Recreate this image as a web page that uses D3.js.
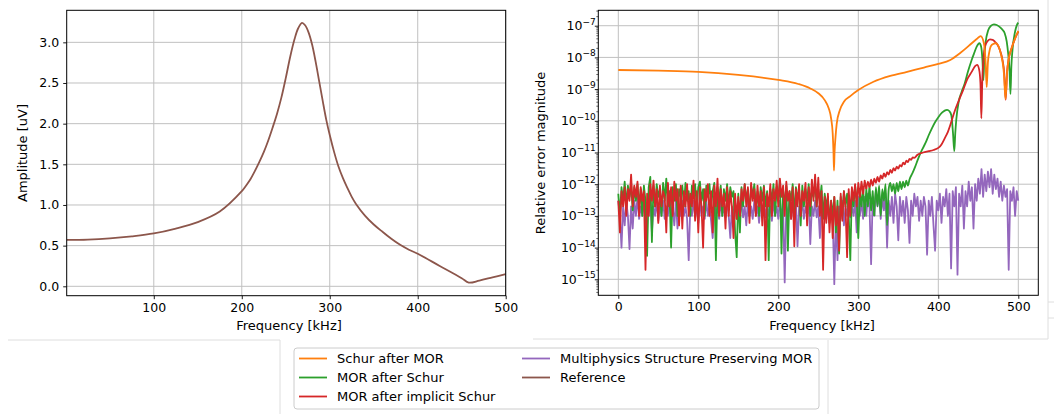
<!DOCTYPE html>
<html>
<head>
<meta charset="utf-8">
<script src="https://cdn.jsdelivr.net/npm/d3@7"></script>
<style>
  body { margin: 0; background: #fff; }
  svg { display: block; font-family: "DejaVu Sans", sans-serif; }
</style>
</head>
<body>
<svg id="canvas" width="1054" height="414"></svg>
<script>
// ---------- data ----------

// left panel: reference amplitude [uV] vs frequency [kHz]
const refFreq = [1, 25, 50, 75, 100, 125, 150, 175, 200, 205,
  210, 215, 220, 225, 230, 235, 240, 245, 250, 255,
  260, 264, 268.5, 272, 276, 280, 284, 288, 292, 296,
  300, 305, 310, 315, 320, 325, 330, 340, 350, 360,
  370, 380, 390, 400, 425, 450, 458, 470, 485, 500]
const refAmp = [0.57, 0.575, 0.59, 0.615, 0.65, 0.71, 0.79, 0.92, 1.17, 1.24,
  1.32, 1.42, 1.53, 1.65, 1.79, 1.95, 2.12, 2.32, 2.56, 2.82,
  3.04, 3.17, 3.24, 3.21, 3.12, 2.97, 2.76, 2.52, 2.28, 2.05,
  1.86, 1.65, 1.47, 1.33, 1.21, 1.10, 1.01, 0.87, 0.76, 0.67,
  0.585, 0.51, 0.45, 0.40, 0.25, 0.10, 0.045, 0.07, 0.11, 0.15]

// right panel: relative error magnitude
// noisy stretches are sampled every noiseStep kHz starting at 0
const noiseStep = 2

// Schur after MOR [kHz, error]
const schurAfterMor = [[0, 4.0e-9], [50, 3.8e-9], [100, 3.5e-9], [150, 2.8e-9], [200, 1.95e-9],
  [225, 1.45e-9], [240, 1.05e-9], [250, 7.4e-10], [258, 4.5e-10], [263, 2.5e-10],
  [266, 1.2e-10], [268, 4e-11], [269, 1e-11], [269.6, 2.7e-12], [270.3, 1e-11],
  [271.5, 3e-11], [273, 8e-11], [277, 2.2e-10], [282, 4e-10], [290, 6e-10],
  [300, 9.3e-10], [319, 1.7e-9], [340, 2.6e-9], [361, 3.5e-9], [382, 4.8e-9],
  [400, 6.2e-9], [415, 8.3e-9], [427, 1.35e-8], [438, 2.3e-8], [448, 3.8e-8],
  [453, 4.7e-8], [457, 2.8e-8], [459, 8e-9], [460.5, 1.15e-9], [462, 7e-9],
  [464, 1.6e-8], [467, 2.5e-8], [472, 2.8e-8], [478, 1.35e-8], [482, 3.2e-9],
  [484, 4.8e-10], [486, 3.5e-9], [488, 9e-9], [491.5, 1.9e-8], [496, 4e-8], [500, 6.9e-8]]

// MOR after Schur: noise 0..320 kHz, then the smooth part
const morAfterSchurNoise = [
  5e-13, 1e-13, 8e-13, 3e-13, 1.2e-12, 2e-13, 9e-13, 4e-13, 1e-12, 1.5e-13,
  8e-13, 3e-13, 1e-12, 2e-13, 7e-13, 1e-13, 9e-13, 3e-13, 5.5e-15, 8e-13,
  1.7e-12, 1.5e-14, 9e-13, 2e-13, 1e-12, 4e-13, 7e-13, 1e-13, 1.1e-12, 3e-13,
  1.5e-12, 2e-13, 6e-13, 1e-14, 8e-13, 3e-13, 1e-12, 1e-13, 7e-13, 4e-13,
  9e-13, 2e-13, 1.1e-12, 3e-13, 6e-13, 1e-13, 9e-13, 4e-13, 1e-12, 2e-13,
  8e-13, 1.2e-12, 3e-13, 7e-13, 1e-13, 9e-13, 4e-13, 1e-12, 2e-13, 6e-13,
  1.1e-12, 4e-15, 8e-13, 3e-13, 9e-13, 1e-13, 7e-13, 3e-13, 1e-12, 2e-13,
  8e-13, 4e-13, 6e-13, 3e-14, 5e-15, 5e-13, 3e-14, 8e-13, 2e-13, 1e-12,
  3e-13, 7e-13, 1e-13, 9e-13, 4e-13, 1e-12, 2e-13, 6e-13, 1e-13, 8e-13,
  3e-13, 9e-13, 2e-13, 6e-13, 4e-15, 7e-13, 3e-13, 1e-12, 1e-13, 8e-13,
  4e-13, 1.1e-12, 6.5e-15, 7e-13, 2e-13, 9e-13, 8e-15, 6e-13, 3e-13, 1e-12,
  1e-13, 8e-13, 4e-13, 6e-13, 5e-14, 9e-13, 2e-13, 7e-13, 3e-13, 1e-12,
  1e-13, 8e-13, 4e-13, 1.1e-12, 2e-13, 7e-13, 3e-13, 9e-13, 8e-14, 5e-13,
  2e-13, 4e-13, 6e-14, 3e-13, 1e-13, 4e-13, 3e-14, 3e-13, 6.5e-15, 4e-13,
  1e-13, 6e-13, 2e-13, 5e-13, 1e-13, 4e-15, 7e-13, 2e-13, 9e-13, 3e-13,
  2e-14, 6e-13, 2e-13, 8e-13, 1e-13, 7e-13, 2e-13, 9e-13, 1.5e-13, 6e-13,
  1e-13]
const morAfterSchurTail = [[322, 8e-13], [324, 2e-13], [326, 9e-13], [328, 1e-13], [330, 7e-13],
  [332, 3e-13], [334, 1e-12], [336, 5e-14], [338, 7e-13], [340, 1.1e-12],
  [342, 6e-13], [344, 1e-12], [346, 5e-13], [348, 1.1e-12], [350, 6e-13],
  [352, 1.2e-12], [354, 7e-13], [356, 1.2e-12], [358, 8e-13], [360, 1.3e-12],
  [362, 9e-13], [364, 1.4e-12], [368, 2.3e-12], [371, 3.5e-12], [375, 6.5e-12],
  [379.6, 1.2e-11], [384, 2e-11], [388, 3.5e-11], [392, 5.8e-11], [396.3, 9.3e-11],
  [400.5, 1.35e-10], [404.6, 1.8e-10], [408, 2.1e-10], [411, 2.2e-10], [414, 2e-10],
  [416.3, 1.5e-10], [418.4, 4e-11], [420, 1.1e-11], [421.2, 4e-11], [422.5, 1.1e-10],
  [425.5, 4e-10], [429, 8e-10], [433, 1.5e-9], [437, 3.5e-9], [441.7, 8.3e-9],
  [445, 1.4e-8], [448, 2.2e-8], [451.4, 2.8e-8], [453.5, 2.2e-8], [455.2, 8e-9],
  [456.4, 1.9e-9], [457.5, 1e-8], [459, 2.8e-8], [462.5, 7.3e-8], [466, 1e-7],
  [469.6, 1.1e-7], [473, 1.05e-7], [477, 9e-8], [480.5, 7.3e-8], [483, 5.8e-8],
  [485.5, 3.2e-8], [487.3, 1.35e-8], [489, 4e-9], [490.2, 7e-10], [491.3, 5e-9],
  [492.7, 1.7e-8], [495.6, 5.8e-8], [499, 1.15e-7], [500, 1.25e-7]]

// MOR after implicit Schur: noise 0..310 kHz, then the rising part
const morImplicitNoise = [
  3e-13, 3e-14, 6e-13, 2e-13, 8e-13, 1e-13, 7e-13, 3e-13, 2e-12, 2e-13,
  9e-13, 4e-13, 1.2e-12, 1e-13, 8e-13, 3e-13, 6e-13, 2e-15, 5e-13, 1e-13,
  1e-12, 3e-13, 1.3e-12, 2e-13, 7e-13, 6e-14, 9e-13, 2e-13, 6e-13, 4e-13,
  3e-14, 1.1e-12, 2e-13, 8e-13, 1e-13, 1.2e-12, 3e-13, 7e-13, 5e-14, 9e-13,
  4e-14, 6e-13, 2e-13, 1e-12, 1e-13, 5e-13, 2e-13, 1.3e-12, 7e-14, 6e-13,
  3e-14, 8e-13, 2e-13, 1e-14, 7e-13, 3e-13, 1e-12, 1e-13, 6e-13, 3e-14,
  9e-13, 2e-13, 1.5e-12, 1e-13, 7e-13, 2e-13, 5e-13, 4e-14, 8e-13, 1e-13,
  6e-13, 2e-13, 2e-14, 5e-13, 8e-14, 4e-13, 1e-13, 7e-13, 3e-13, 1e-12,
  2e-13, 8e-13, 6e-14, 1.1e-12, 3e-13, 7e-13, 1e-13, 9e-13, 2e-13, 6e-13,
  5e-14, 8e-13, 4e-15, 5e-13, 2e-13, 1e-12, 1e-13, 7e-13, 3e-13, 1.3e-12,
  2e-13, 1.5e-12, 4e-13, 9e-13, 1e-13, 1.2e-12, 3e-13, 6e-13, 8e-14, 8e-13,
  1.1e-14, 7e-13, 2e-13, 1e-12, 1e-13, 6e-13, 3e-13, 1.1e-12, 5e-14, 8e-13,
  2e-13, 1.4e-12, 3e-13, 2e-12, 2e-13, 1.6e-12, 1e-13, 6e-13, 2e-15, 4e-13,
  6e-14, 5e-13, 3e-14, 3e-13, 2e-14, 4e-13, 5e-14, 2e-13, 8e-15, 5e-13,
  7e-14, 6e-13, 2e-13, 5e-15, 7e-13, 1e-13, 8e-13, 3e-13, 1e-12, 2e-13,
  1.1e-12, 4e-13, 1.2e-12, 5e-13, 1.3e-12, 7e-13]
const morImplicitTail = [[312, 1.2e-12], [314, 8e-13], [316, 1.4e-12], [318, 9e-13], [320, 1.5e-12],
  [322, 1.1e-12], [324, 1.7e-12], [326, 1.2e-12], [328, 1.9e-12], [330, 1.5e-12],
  [332, 2.2e-12], [334, 1.7e-12], [336, 2.4e-12], [338, 2e-12], [340, 2.8e-12],
  [342, 2.3e-12], [344, 3.2e-12], [346, 2.7e-12], [348, 3.6e-12], [350, 3.1e-12],
  [352, 4e-12], [354, 3.6e-12], [356, 4.8e-12], [358, 4.2e-12], [360, 5.5e-12],
  [362, 5e-12], [364, 6.3e-12], [366, 5.9e-12], [368, 7e-12], [370, 6.8e-12],
  [374, 8.5e-12], [381, 1e-11], [388, 1.1e-11], [394, 1.2e-11], [400, 1.4e-11],
  [404, 1.8e-11], [408, 2.8e-11], [412, 4.5e-11], [415, 7.4e-11], [418, 1.3e-10],
  [421, 2.2e-10], [426, 4.6e-10], [431, 9.3e-10], [436, 2e-9], [441.7, 3.5e-9],
  [446, 5.3e-9], [448.5, 5.8e-9], [451, 4.2e-9], [452.7, 1.5e-9], [453.8, 1.2e-10],
  [455, 2e-9], [456.5, 9e-9], [458.3, 2.2e-8], [461, 3.1e-8], [464.6, 3.7e-8],
  [468, 3.6e-8], [470.8, 3.1e-8], [474, 2.5e-8], [477, 1.7e-8], [480, 9e-9],
  [482.5, 3e-9], [484.2, 4.6e-10], [486, 3.5e-9], [488, 9e-9], [491.5, 1.9e-8],
  [496, 4e-8], [500, 6.5e-8]]

// Multiphysics Structure Preserving MOR: noise over the whole range 0..500 kHz
const multiphysicsNoise = [
  3e-13, 1e-13, 1e-14, 2e-13, 5e-14, 3e-13, 1e-13, 9e-15, 2e-13, 4e-14,
  3e-13, 1e-13, 4e-13, 8e-14, 2e-13, 1e-13, 3e-13, 6e-14, 2e-13, 1e-13,
  4e-13, 3e-14, 2e-13, 1e-13, 3e-13, 7e-14, 2e-13, 1e-13, 3e-13, 8e-14,
  2e-13, 1e-13, 4e-13, 9e-14, 2e-13, 5e-14, 3e-13, 4e-14, 2e-13, 1e-13,
  3e-13, 1e-13, 2e-13, 8e-14, 4e-15, 2e-13, 1e-13, 3e-13, 9e-14, 2e-13,
  6e-14, 3e-13, 1e-13, 2e-13, 8e-14, 3e-13, 1e-13, 2e-13, 7e-14, 2e-14,
  3e-13, 1e-13, 2e-13, 8e-14, 3e-13, 1e-13, 2e-13, 9e-14, 3e-13, 1e-13,
  2e-14, 2e-13, 1e-13, 3e-13, 8e-14, 2e-13, 1e-13, 3e-13, 9e-14, 2e-13,
  5e-14, 3e-13, 1e-13, 2e-13, 8e-14, 3e-13, 1e-13, 2e-13, 6e-14, 3e-13,
  1e-13, 2e-13, 9e-14, 3e-13, 1e-13, 2e-13, 7e-14, 3e-13, 1e-13, 2e-13,
  8e-14, 3e-13, 1e-13, 2e-13, 8e-16, 2e-13, 1e-13, 3e-13, 8e-14, 2e-13,
  1e-13, 3e-13, 1.1e-14, 2e-13, 1e-13, 3e-13, 8e-14, 2e-13, 1e-13, 3e-13,
  1.3e-14, 2e-13, 1e-13, 3e-13, 9e-14, 2e-13, 2e-14, 2e-13, 1e-13, 3e-13,
  8e-14, 2e-13, 6e-14, 2e-13, 1e-13, 7e-16, 1e-13, 4e-15, 2e-13, 8e-14,
  3e-13, 5e-14, 2e-13, 1e-13, 3e-13, 9e-14, 2e-13, 1e-13, 3e-13, 3e-14,
  4e-13, 1e-13, 3e-13, 8e-14, 4e-13, 1e-13, 5e-13, 2e-13, 3e-15, 4e-13,
  1e-13, 6e-13, 2e-13, 5e-13, 8e-14, 4e-13, 1.5e-13, 5e-13, 1e-14, 3e-13,
  1e-13, 4e-13, 6e-14, 5e-13, 2e-13, 1.7e-14, 4e-13, 1e-13, 3e-13, 6e-14,
  4e-13, 1.5e-13, 1.4e-14, 3e-13, 1e-13, 5e-13, 2e-13, 4e-13, 7e-14, 3e-13,
  1e-13, 4e-13, 2e-13, 6e-15, 3e-13, 1e-13, 4e-13, 5e-14, 8e-15, 3e-13,
  1.5e-13, 5e-13, 6e-14, 4e-13, 2e-13, 7e-13, 1e-13, 5e-13, 2.2e-15, 6e-13,
  2e-13, 8e-13, 1.4e-15, 5e-13, 2e-13, 9e-13, 4e-14, 6e-13, 2e-13, 1.2e-12,
  3e-13, 8e-13, 4e-14, 1e-12, 3e-13, 1.5e-12, 5e-13, 3e-12, 4e-13, 2e-12,
  6e-13, 2.5e-12, 8e-13, 3e-12, 5e-13, 2e-12, 7e-13, 1.5e-12, 4e-13, 1.2e-12,
  3e-13, 9e-13, 4e-13, 7e-13, 2e-15, 6e-13, 3e-13, 8e-13, 1e-13, 6e-13,
  3e-13]

// ticks and legend
const ampTicks = [0, 0.5, 1, 1.5, 2, 2.5, 3]
const freqTicksLeft = [100, 200, 300, 400, 500]
const freqTicksRight = [0, 100, 200, 300, 400, 500]
const errExponents = [-15, -14, -13, -12, -11, -10, -9, -8, -7]
const legendLabels = ['Schur after MOR', 'MOR after Schur', 'MOR after implicit Schur',
  'Multiphysics Structure Preserving MOR', 'Reference']
const legendColors = ['#ff7f0e', '#2ca02c', '#d62728', '#9467bd', '#8c564b']

// ---------- drawing ----------

let svg = d3.select('#canvas')

const leftBox = {x0: 66.7, x1: 505.7, y0: 10.3, y1: 295.7}
const rightBox = {x0: 598.3, x1: 1038.3, y0: 10.3, y1: 295.3}

let xL = d3.scaleLinear().domain([1, 500]).range([leftBox.x0, leftBox.x1])
let yL = d3.scaleLinear().domain([-0.1156, 3.394]).range([leftBox.y1, leftBox.y0])
let xR = d3.scaleLinear().domain([-25, 525]).range([rightBox.x0, rightBox.x1])
let yR = d3.scaleLog().domain([Math.pow(10, -15.505), Math.pow(10, -6.514)]).range([rightBox.y1, rightBox.y0])

// faint panel borders of the screenshot
const seps = [[8, 340, 280, 340], [280, 340, 280, 414], [533, 339, 1048, 339], [828, 340, 828, 414],
  [1048, 0, 1048, 339], [1048, 302, 1054, 302], [1048, 318, 1054, 318]]
svg.selectAll('.sep').data(seps).enter().append('line')
  .attr('x1', d => d[0]).attr('y1', d => d[1]).attr('x2', d => d[2]).attr('y2', d => d[3])
  .attr('stroke', '#dedede').attr('stroke-width', 1)

drawGrid = (box, x, y, xt, yt) => {
  let g = svg.append('g')
  g.selectAll('.gx').data(xt).enter().append('line')
    .attr('x1', d => x(d)).attr('x2', d => x(d))
    .attr('y1', box.y0).attr('y2', box.y1)
  g.selectAll('.gy').data(yt).enter().append('line')
    .attr('y1', d => y(d)).attr('y2', d => y(d))
    .attr('x1', box.x0).attr('x2', box.x1)
  g.selectAll('line').attr('stroke', '#c0c0c0').attr('stroke-width', 1)
}

styleAxis = (g) => {
  g.select('.domain').remove()
  g.selectAll('.tick line').attr('stroke', '#000').attr('stroke-width', 0.9)
  g.selectAll('.tick text').attr('fill', '#000').attr('font-size', '12.5px')
    .attr('font-family', '"DejaVu Sans", sans-serif')
}

clip = (id, box) => {
  svg.append('clipPath').attr('id', id).append('rect')
    .attr('x', box.x0).attr('y', box.y0)
    .attr('width', box.x1 - box.x0).attr('height', box.y1 - box.y0)
}

frame = (box) => {
  svg.append('rect')
    .attr('x', box.x0).attr('y', box.y0)
    .attr('width', box.x1 - box.x0).attr('height', box.y1 - box.y0)
    .attr('fill', 'none').attr('stroke', '#000').attr('stroke-width', 1)
}

// ----- left panel -----
drawGrid(leftBox, xL, yL, freqTicksLeft, ampTicks)
clip('clipL', leftBox)

let refPoints = refFreq.map((f, i) => [f, refAmp[i]])
svg.append('path')
  .datum(refPoints)
  .attr('clip-path', 'url(#clipL)')
  .attr('fill', 'none')
  .attr('stroke', legendColors[4])
  .attr('stroke-width', 1.8)
  .attr('d', d3.line().x(d => xL(d[0])).y(d => yL(d[1])).curve(d3.curveCatmullRom.alpha(0.5)))

svg.append('g').attr('transform', `translate(0,${leftBox.y1})`)
  .call(d3.axisBottom(xL).tickValues(freqTicksLeft).tickSize(3.5).tickPadding(3.5))
  .call(styleAxis)
svg.append('g').attr('transform', `translate(${leftBox.x0},0)`)
  .call(d3.axisLeft(yL).tickValues(ampTicks).tickFormat(d3.format('.1f')).tickSize(3.5).tickPadding(4))
  .call(styleAxis)
frame(leftBox)

svg.append('text').attr('x', 289).attr('y', 330)
  .attr('text-anchor', 'middle').attr('font-size', '13px').text('Frequency [kHz]')
svg.append('text').attr('transform', 'translate(27,153) rotate(-90)')
  .attr('text-anchor', 'middle').attr('font-size', '13px').text('Amplitude [uV]')

// ----- right panel -----
drawGrid(rightBox, xR, yR, freqTicksRight, errExponents.map(e => Math.pow(10, e)))
clip('clipR', rightBox)

let lineR = d3.line().x(d => xR(d[0])).y(d => yR(d[1]))
let noisePts = (arr) => arr.map((v, i) => [i * noiseStep, v])

let drawErr = (pts, color, curve) => {
  svg.append('path')
    .datum(pts)
    .attr('clip-path', 'url(#clipR)')
    .attr('fill', 'none')
    .attr('stroke', color)
    .attr('stroke-width', 1.8)
    .attr('stroke-linejoin', 'round')
    .attr('d', lineR.curve(curve))
}

let mpNoise = noisePts(multiphysicsNoise)
let msNoise = noisePts(morAfterSchurNoise)
let miNoise = noisePts(morImplicitNoise)

drawErr(mpNoise, legendColors[3], d3.curveLinear)
drawErr(msNoise, legendColors[1], d3.curveLinear)
drawErr([msNoise[msNoise.length - 1]].concat(morAfterSchurTail), legendColors[1], d3.curveMonotoneX)
drawErr(miNoise, legendColors[2], d3.curveLinear)
drawErr([miNoise[miNoise.length - 1]].concat(morImplicitTail), legendColors[2], d3.curveMonotoneX)
drawErr(schurAfterMor, legendColors[0], d3.curveMonotoneX)

svg.append('g').attr('transform', `translate(0,${rightBox.y1})`)
  .call(d3.axisBottom(xR).tickValues(freqTicksRight).tickSize(3.5).tickPadding(3.5))
  .call(styleAxis)

// log axis: major decade ticks plus minor ticks
let minorTicks = []
for (let e = -16; e <= -7; e++) {
  for (let m = 2; m <= 9; m++) {
    let v = m * Math.pow(10, e)
    if (v > yR.domain()[0] && v < yR.domain()[1]) minorTicks.push(v)
  }
}
svg.append('g').attr('transform', `translate(${rightBox.x0},0)`)
  .call(d3.axisLeft(yR).tickValues(minorTicks).tickFormat('').tickSize(2))
  .call(styleAxis)
  .selectAll('.tick line').attr('stroke-width', 0.6)
svg.append('g').attr('transform', `translate(${rightBox.x0},0)`)
  .call(d3.axisLeft(yR).tickValues(errExponents.map(e => Math.pow(10, e))).tickFormat('').tickSize(3.5))
  .call(styleAxis)

let expLabels = svg.append('g').selectAll('text')
  .data(errExponents).enter().append('text')
  .attr('x', rightBox.x0 - 2.5)
  .attr('y', e => yR(Math.pow(10, e)) + 4.5)
  .attr('text-anchor', 'end')
  .attr('font-size', '12.5px')
expLabels.append('tspan').text('10')
expLabels.append('tspan').attr('font-size', '9px').attr('dy', -5.5).text(e => '\u2212' + Math.abs(e))

frame(rightBox)

svg.append('text').attr('x', 822).attr('y', 330)
  .attr('text-anchor', 'middle').attr('font-size', '13px').text('Frequency [kHz]')
svg.append('text').attr('transform', 'translate(545,153) rotate(-90)')
  .attr('text-anchor', 'middle').attr('font-size', '13px').text('Relative error magnitude')

// ----- legend -----
let legend = svg.append('g')
legend.append('rect')
  .attr('x', 294).attr('y', 348).attr('width', 525).attr('height', 61).attr('rx', 3)
  .attr('fill', '#fff').attr('stroke', '#cccccc').attr('stroke-width', 1)

let entries = legend.selectAll('.entry')
  .data(legendLabels).enter().append('g')
  .attr('transform', (d, i) => {
    let col = i < 3 ? 0 : 1
    let row = i < 3 ? i : i - 3
    return 'translate(' + (col === 0 ? 299 : 522) + ',' + (358.5 + row * 19) + ')'
  })
entries.append('line')
  .attr('x1', 0).attr('x2', 28).attr('y1', 0).attr('y2', 0)
  .attr('stroke', (d, i) => legendColors[i]).attr('stroke-width', 1.8)
entries.append('text')
  .attr('x', 38).attr('y', 4.6)
  .attr('font-size', '13px')
  .text(d => d)
</script>
</body>
</html>
